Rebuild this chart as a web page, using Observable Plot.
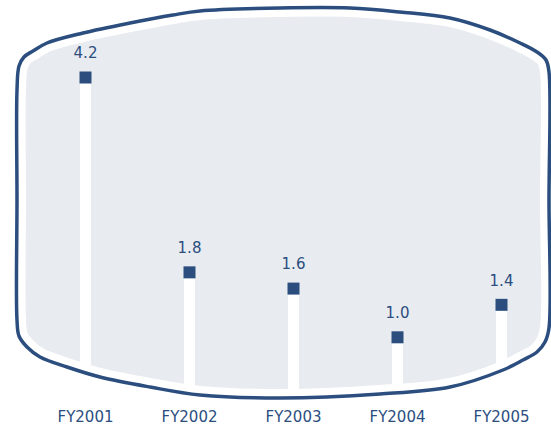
<!DOCTYPE html>
<html>
<head>
<meta charset="utf-8">
<script src="https://cdn.jsdelivr.net/npm/d3@7"></script>
<script src="https://cdn.jsdelivr.net/npm/@observablehq/plot@0.6"></script>
<style>
  html, body { margin: 0; padding: 0; background: white; }
</style>
</head>
<body>
<div id="chart"></div>
<script>
const years = ["FY2001", "FY2002", "FY2003", "FY2004", "FY2005"];
const values = [4.2, 1.8, 1.6, 1.0, 1.4];
const valueLabels = ["4.2", "1.8", "1.6", "1.0", "1.4"];

const navy = "#2b4e7f";
const panel = "#e8ebf0";

const data = years.map((year, i) => ({year, value: values[i], label: valueLabels[i]}));

const plot = Plot.plot({
  width: 551,
  height: 431,
  marginTop: 0,
  marginRight: 0,
  marginBottom: 23,
  marginLeft: 0,
  style: {fontFamily: "DejaVu Sans", fontSize: "15px", color: navy, background: "white"},
  x: {type: "point", domain: years, range: [85, 501], padding: 0, label: null, tickSize: 0, tickPadding: 3},
  y: {domain: [0, 4.2], range: [418, 77], axis: null},
  marks: [
    Plot.ruleX(data, {x: "year", y1: 0, y2: "value", stroke: "white", strokeWidth: 11}),
    Plot.dot(data, {x: "year", y: "value", symbol: "square", r: 6.77, fill: navy}),
    Plot.text(data, {x: "year", y: "value", text: "label", dy: -24, fill: navy, fontSize: 15})
  ]
});

// decorative screen-shaped panel
const outlinePts = [
  [17,90],[19,66],[24,57],[33,51],[47,43],[83,33],[130,23],[173,15],[200,11],[280,8],[350,8],
  [400,12],[450,18],[490,30],[520,43],[537,52],[546,60],[549,72],[549,200],[549,328],
  [545,342],[537,352],[523,360],[503,370],[450,387],[380,394],[280,398],[200,395],[150,387],
  [100,377],[67,367],[40,357],[27,347],[19,336],[17,320],[17,200]
];
const shapeD = d3.line().curve(d3.curveCatmullRomClosed.alpha(0.5))(outlinePts);

const svg = d3.select(plot);
const defs = svg.insert("defs", ":first-child");
defs.append("clipPath").attr("id", "tvclip").append("path").attr("d", shapeD);

svg.insert("path", ":first-child")
  .attr("d", shapeD)
  .attr("fill", panel)
  .attr("stroke", "white")
  .attr("stroke-width", 18)
  .attr("stroke-linejoin", "round");

const ruleG = svg.select('g[aria-label="rule"]');
ruleG.attr("clip-path", "url(#tvclip)");
const outline = document.createElementNS("http://www.w3.org/2000/svg", "path");
outline.setAttribute("d", shapeD);
outline.setAttribute("fill", "none");
outline.setAttribute("stroke", navy);
outline.setAttribute("stroke-width", 3.5);
ruleG.node().parentNode.insertBefore(outline, ruleG.node().nextSibling);

document.getElementById("chart").appendChild(plot);
</script>
</body>
</html>
